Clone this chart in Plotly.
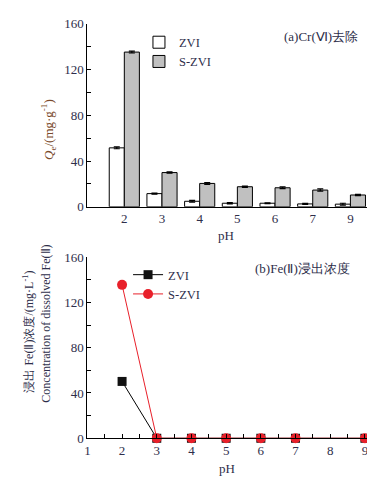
import plotly.graph_objects as go

# ---- data ----
ph_cats = ["2", "3", "4", "5", "6", "7", "9"]
qe_zvi = [51.5, 11.5, 4.8, 3.1, 3.1, 2.5, 2.3]
qe_szvi = [135.2, 29.9, 20.4, 17.5, 16.6, 14.6, 10.3]
qe_zvi_err = [0.8, 0.5, 0.8, 0.5, 0.4, 0.5, 0.8]
qe_szvi_err = [0.8, 0.6, 0.8, 0.5, 0.8, 1.0, 0.5]

ph_vals = [2, 3, 4, 5, 6, 7, 9]
fe_zvi = [50.2, 0, 0, 0, 0, 0, 0]
fe_szvi = [135.5, 0, 0, 0, 0, 0, 0]

W, H = 375, 477
def px(x):
    return x / W
def py(y):
    return 1 - y / H

SERIF = "Liberation Serif"
TXT = "#2e2e4a"

fig = go.Figure()

fig.add_trace(go.Bar(
    x=ph_cats, y=qe_zvi, name="ZVI",
    marker=dict(color="white", line=dict(color="black", width=1)),
    error_y=dict(type="data", array=qe_zvi_err, color="black", thickness=1.2, width=3),
    xaxis="x", yaxis="y", legend="legend",
))
fig.add_trace(go.Bar(
    x=ph_cats, y=qe_szvi, name="S-ZVI",
    marker=dict(color="#c0c0c0", line=dict(color="black", width=1)),
    error_y=dict(type="data", array=qe_szvi_err, color="black", thickness=1.2, width=3),
    xaxis="x", yaxis="y", legend="legend",
))

fig.add_trace(go.Scatter(
    x=ph_vals, y=fe_zvi, name="ZVI", mode="lines+markers",
    line=dict(color="black", width=1),
    marker=dict(symbol="square", size=9, color="#111111"),
    xaxis="x2", yaxis="y2", legend="legend2", cliponaxis=False,
))
fig.add_trace(go.Scatter(
    x=ph_vals, y=fe_szvi, name="S-ZVI", mode="lines+markers",
    line=dict(color="#e8202a", width=1),
    marker=dict(symbol="circle", size=10, color="#e8202a"),
    xaxis="x2", yaxis="y2", legend="legend2", cliponaxis=False,
))

axis_common = dict(
    showline=True, linecolor="black", linewidth=1, showgrid=False, zeroline=False,
    tickfont=dict(family=SERIF, size=13, color=TXT),
)

fig.update_layout(
    width=W, height=H,
    margin=dict(l=0, r=0, t=0, b=0),
    paper_bgcolor="white", plot_bgcolor="white",
    barmode="group", bargap=0.2, bargroupgap=0,
    font=dict(family=SERIF, color=TXT),
    xaxis=dict(
        domain=[px(77), px(360)], anchor="y",
        type="category", range=[-0.98, 6.47],
        ticks="", **axis_common,
    ),
    yaxis=dict(
        domain=[py(198), py(9)], anchor="x",
        range=[0, 160], dtick=40, ticks="inside", ticklen=4, tickcolor="black",
        minor=dict(dtick=20, ticks="inside", ticklen=4, tickcolor="black"),
        **axis_common,
    ),
    xaxis2=dict(
        domain=[px(77), px(362)], anchor="y2",
        range=[1, 9.15], dtick=1, ticks="inside", ticklen=4, tickcolor="black",
        minor=dict(dtick=0.5, ticks="inside", ticklen=4, tickcolor="black"),
        **axis_common,
    ),
    yaxis2=dict(
        domain=[py(437), py(250)], anchor="x2",
        range=[0, 160], dtick=40, ticks="inside", ticklen=4, tickcolor="black",
        minor=dict(dtick=20, ticks="inside", ticklen=4, tickcolor="black"),
        **axis_common,
    ),
    legend=dict(
        x=px(129), y=py(13), xanchor="left", yanchor="top",
        bgcolor="rgba(0,0,0,0)", font=dict(family=SERIF, size=12.5, color=TXT),
        itemwidth=30, tracegroupgap=0, traceorder="normal",
    ),
    legend2=dict(
        x=px(118), y=py(253), xanchor="left", yanchor="top",
        bgcolor="rgba(0,0,0,0)", font=dict(family=SERIF, size=12.5, color=TXT),
        itemwidth=30, tracegroupgap=0, traceorder="normal",
    ),
)

annotations = [
    dict(x=px(313), y=py(22), text="(a)Cr(Ⅵ)去除", font=dict(size=13)),
    dict(x=px(294), y=py(262), text="(b)Fe(Ⅱ)浸出浓度", font=dict(size=13)),
    dict(x=px(217), y=py(228), text="pH", font=dict(size=13)),
    dict(x=px(218), y=py(468), text="pH", font=dict(size=13)),
    dict(x=px(38), y=py(118), text="<i>Q</i><sub>e</sub>/(mg·g<sup>-1</sup>)",
         textangle=-90, font=dict(size=13, color="#7a4a2a")),
    dict(x=px(18), y=py(327), text="浸出 Fe(Ⅱ)浓度/(mg·L<sup>-1</sup>)",
         textangle=-90, font=dict(size=12)),
    dict(x=px(35), y=py(319), text="Concentration of dissolved Fe(Ⅱ)",
         textangle=-90, font=dict(size=12)),
]
for a in annotations:
    a.update(xref="paper", yref="paper", showarrow=False, xanchor="center", yanchor="middle")
    a["font"] = dict(family=SERIF, color=a["font"].get("color", TXT), size=a["font"]["size"])
fig.update_layout(annotations=annotations)

fig.write_html("out.html")
